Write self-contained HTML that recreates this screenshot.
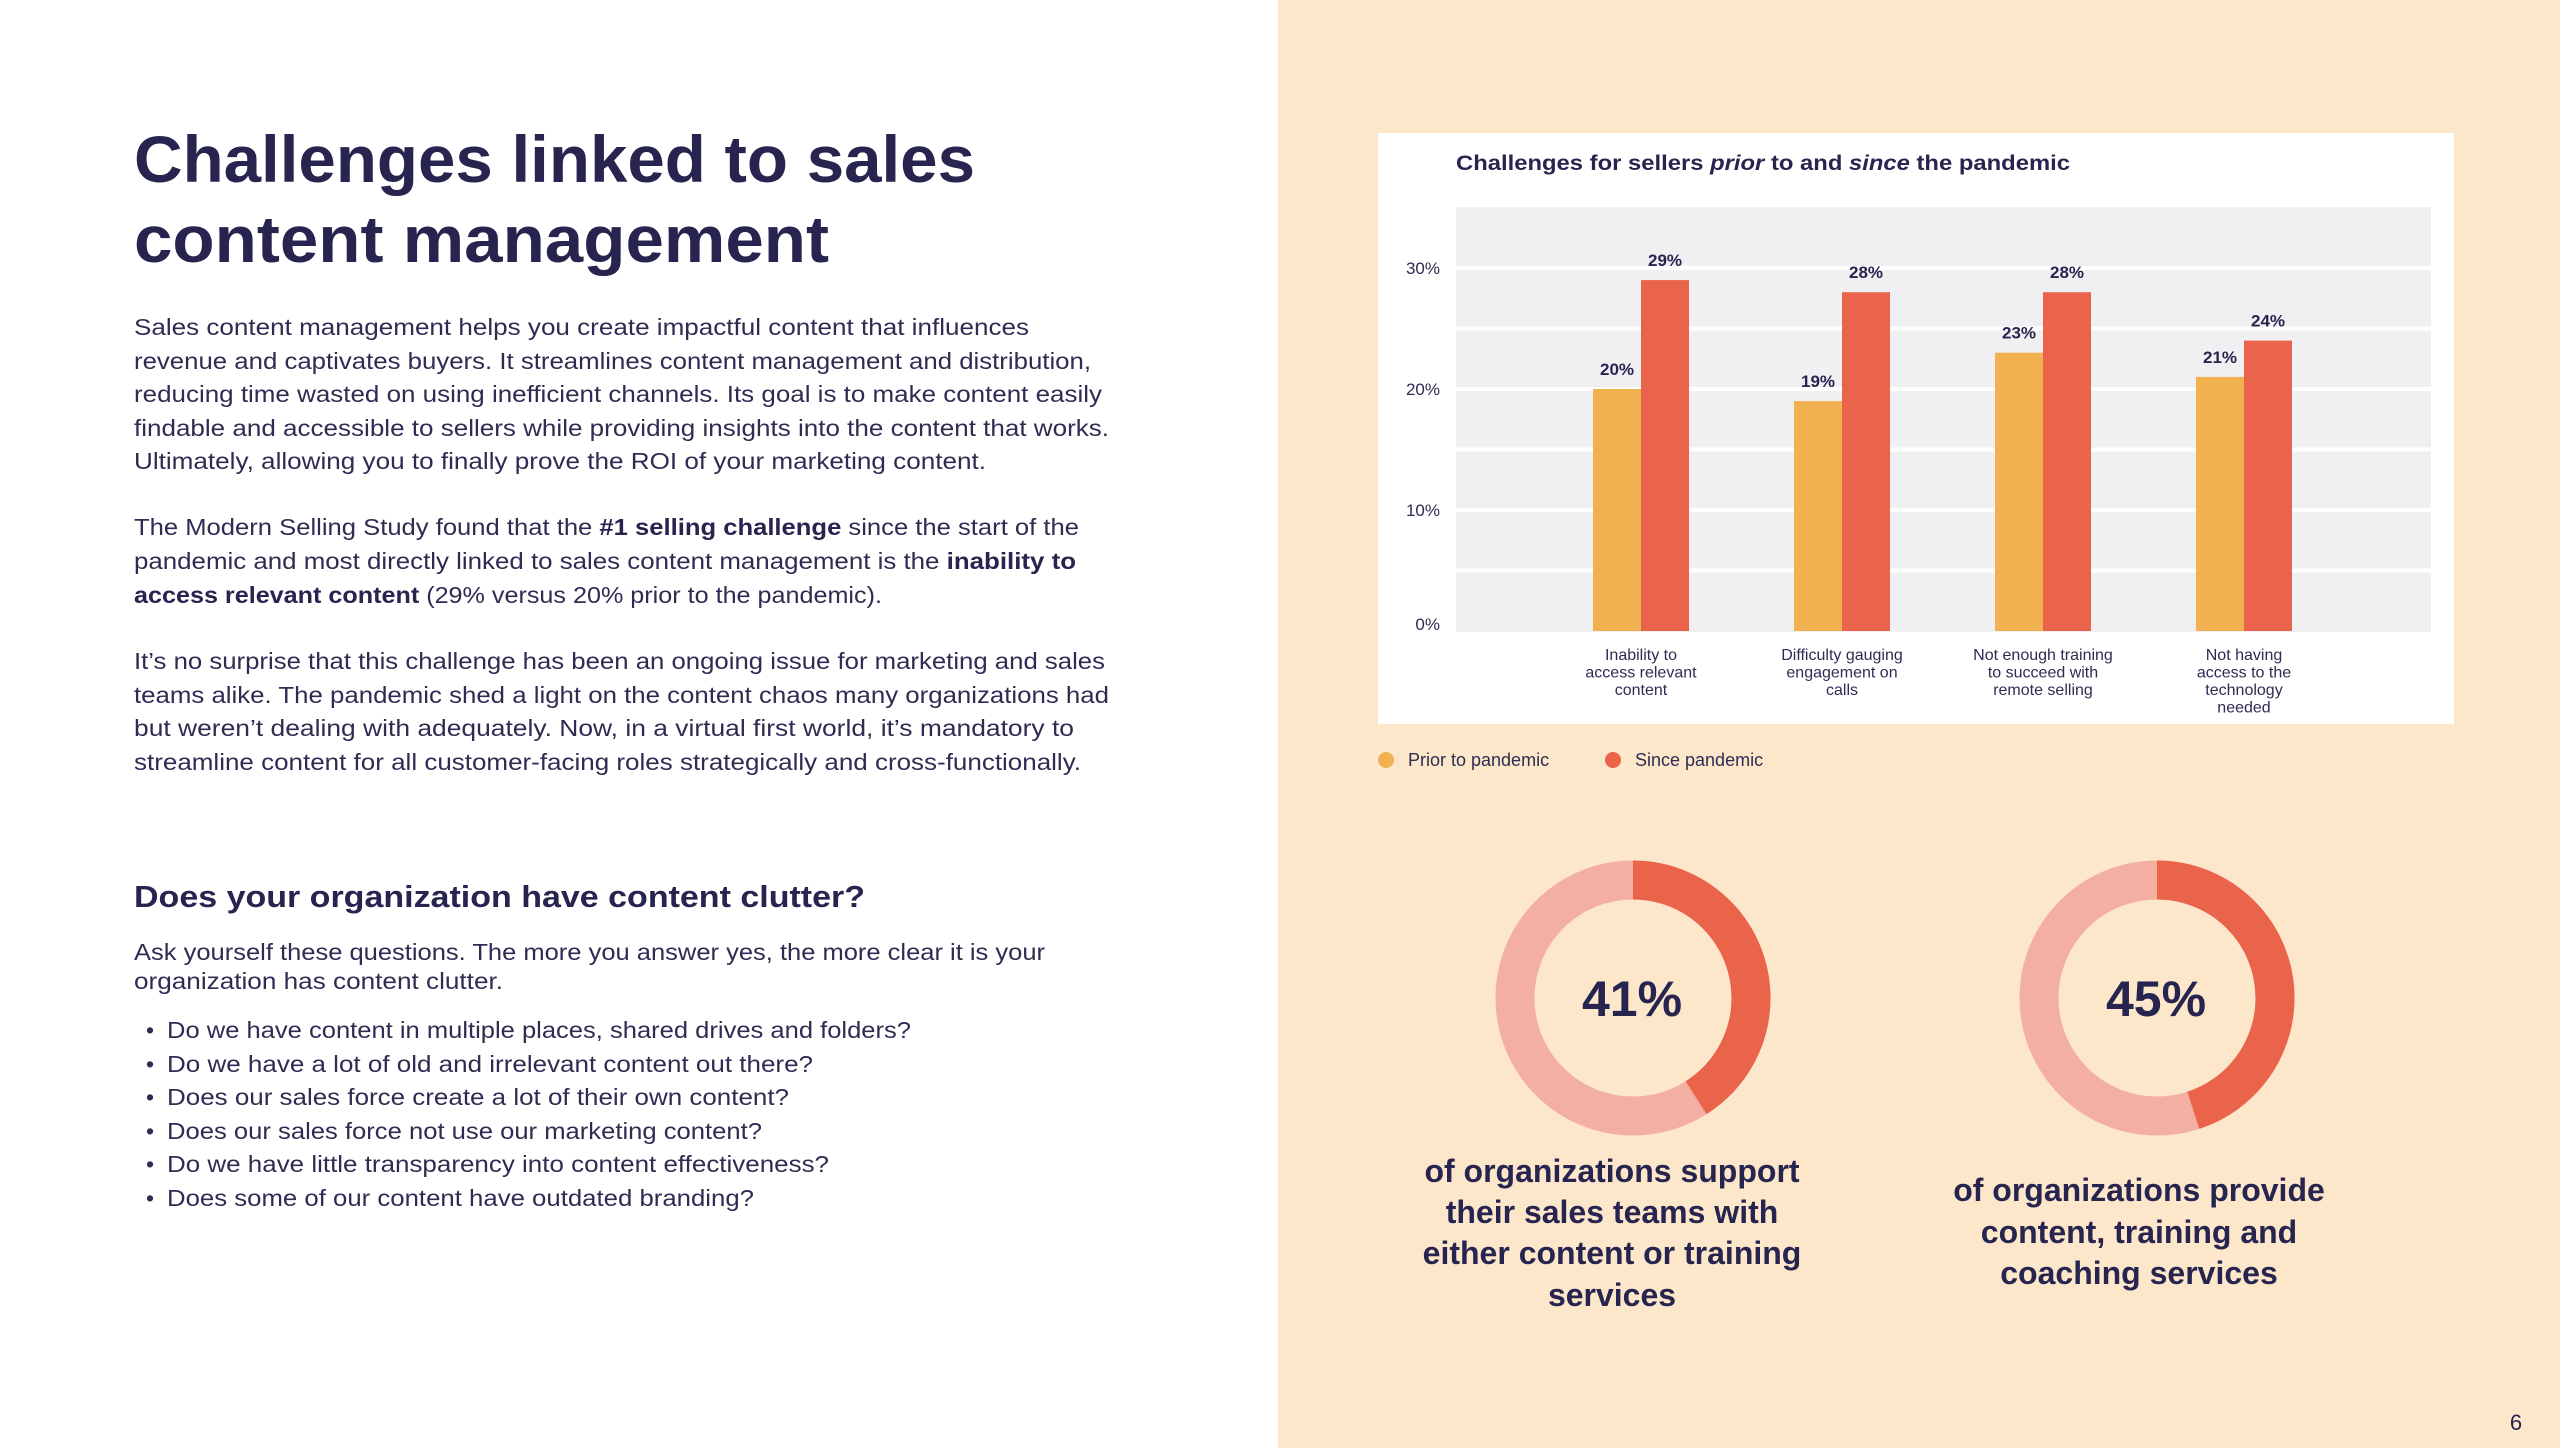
<!DOCTYPE html>
<html><head><meta charset="utf-8"><style>
html,body{margin:0;padding:0;width:2560px;height:1448px;overflow:hidden;background:#fff}
svg{display:block;font-family:"Liberation Sans",sans-serif}
</style></head><body>
<svg id="page" width="2560" height="1448" viewBox="0 0 2560 1448">
<rect x="0" y="0" width="1278" height="1448" fill="#ffffff"/>
<rect x="1278" y="0" width="1282" height="1448" fill="#FCE7CB"/>
<g fill="#27244F">
<text x="134" y="182" font-size="66" font-weight="700" textLength="841" lengthAdjust="spacingAndGlyphs">Challenges linked to sales</text>
<text x="134" y="262" font-size="66" font-weight="700" textLength="695" lengthAdjust="spacingAndGlyphs">content management</text>
<g font-size="23" fill="#2E2C52">
<text x="134" y="335" textLength="895" lengthAdjust="spacingAndGlyphs">Sales content management helps you create impactful content that influences</text>
<text x="134" y="369" textLength="957" lengthAdjust="spacingAndGlyphs">revenue and captivates buyers. It streamlines content management and distribution,</text>
<text x="134" y="402" textLength="968" lengthAdjust="spacingAndGlyphs">reducing time wasted on using inefficient channels. Its goal is to make content easily</text>
<text x="134" y="436" textLength="975" lengthAdjust="spacingAndGlyphs">findable and accessible to sellers while providing insights into the content that works.</text>
<text x="134" y="469" textLength="852" lengthAdjust="spacingAndGlyphs">Ultimately, allowing you to finally prove the ROI of your marketing content.</text>
</g>
<g font-size="23" fill="#2E2C52">
<text x="134" y="535" textLength="945" lengthAdjust="spacingAndGlyphs">The Modern Selling Study found that the <tspan font-weight="700" fill="#27244F">#1 selling challenge</tspan> since the start of the</text>
<text x="134" y="569" textLength="942" lengthAdjust="spacingAndGlyphs">pandemic and most directly linked to sales content management is the <tspan font-weight="700" fill="#27244F">inability to</tspan></text>
<text x="134" y="603" textLength="748" lengthAdjust="spacingAndGlyphs"><tspan font-weight="700" fill="#27244F">access relevant content</tspan> (29% versus 20% prior to the pandemic).</text>
</g>
<g font-size="23" fill="#2E2C52">
<text x="134" y="669" textLength="971" lengthAdjust="spacingAndGlyphs">It’s no surprise that this challenge has been an ongoing issue for marketing and sales</text>
<text x="134" y="703" textLength="975" lengthAdjust="spacingAndGlyphs">teams alike. The pandemic shed a light on the content chaos many organizations had</text>
<text x="134" y="736" textLength="940" lengthAdjust="spacingAndGlyphs">but weren’t dealing with adequately. Now, in a virtual first world, it’s mandatory to</text>
<text x="134" y="770" textLength="947" lengthAdjust="spacingAndGlyphs">streamline content for all customer-facing roles strategically and cross-functionally.</text>
</g>
<text x="134" y="907" font-size="31" font-weight="700" textLength="731" lengthAdjust="spacingAndGlyphs">Does your organization have content clutter?</text>
<g font-size="23" fill="#2E2C52">
<text x="134" y="960" textLength="911" lengthAdjust="spacingAndGlyphs">Ask yourself these questions. The more you answer yes, the more clear it is your</text>
<text x="134" y="989" textLength="369" lengthAdjust="spacingAndGlyphs">organization has content clutter.</text>
</g>
<g font-size="23" fill="#2E2C52">
<text x="146" y="1038">•</text><text x="167" y="1038" textLength="744" lengthAdjust="spacingAndGlyphs">Do we have content in multiple places, shared drives and folders?</text>
<text x="146" y="1072">•</text><text x="167" y="1072" textLength="646" lengthAdjust="spacingAndGlyphs">Do we have a lot of old and irrelevant content out there?</text>
<text x="146" y="1105">•</text><text x="167" y="1105" textLength="622" lengthAdjust="spacingAndGlyphs">Does our sales force create a lot of their own content?</text>
<text x="146" y="1139">•</text><text x="167" y="1139" textLength="595" lengthAdjust="spacingAndGlyphs">Does our sales force not use our marketing content?</text>
<text x="146" y="1172">•</text><text x="167" y="1172" textLength="662" lengthAdjust="spacingAndGlyphs">Do we have little transparency into content effectiveness?</text>
<text x="146" y="1206">•</text><text x="167" y="1206" textLength="587" lengthAdjust="spacingAndGlyphs">Does some of our content have outdated branding?</text>
</g>
</g>
<rect x="1378" y="133" width="1076" height="591" fill="#ffffff"/>
<text x="1456" y="170" font-size="21" font-weight="700" fill="#27244F" textLength="614" lengthAdjust="spacingAndGlyphs">Challenges for sellers <tspan font-style="italic">prior</tspan> to and <tspan font-style="italic">since</tspan> the pandemic</text>
<rect x="1456" y="207" width="975" height="425" fill="#F0F0F3"/>
<g id="grid"></g><g id="yticks"></g><g id="bars"></g><g id="labels"></g><g id="cats"></g>
<g>
<circle cx="1386" cy="760" r="8" fill="#F2B150"/>
<text x="1408" y="766" font-size="18" fill="#2E2C52">Prior to pandemic</text>
<circle cx="1613" cy="760" r="8" fill="#EA634B"/>
<text x="1635" y="766" font-size="18" fill="#2E2C52">Since pandemic</text>
</g>
<g id="donuts"></g>
<g font-size="32" font-weight="700" fill="#27244F" text-anchor="middle">
<text x="1612" y="1182">of organizations support</text>
<text x="1612" y="1223">their sales teams with</text>
<text x="1612" y="1264">either content or training</text>
<text x="1612" y="1306">services</text>
</g>
<g font-size="32" font-weight="700" fill="#27244F" text-anchor="middle">
<text x="2139" y="1201">of organizations provide</text>
<text x="2139" y="1243">content, training and</text>
<text x="2139" y="1284">coaching services</text>
</g>
<text x="2516" y="1430" font-size="22" fill="#27244F" text-anchor="middle">6</text>
</svg>
<script>
const categories = [["Inability to","access relevant","content"],["Difficulty gauging","engagement on","calls"],["Not enough training","to succeed with","remote selling"],["Not having","access to the","technology","needed"]];
const priorValues = [20, 19, 23, 21];
const sinceValues = [29, 28, 28, 24];
const tickValues = [0, 10, 20, 30];
const gridValues = [5, 10, 15, 20, 25, 30];
const donutValues = [41, 45];
const NS = "http://www.w3.org/2000/svg";
function mk(tag, attrs, parent){const e=document.createElementNS(NS,tag);for(const k in attrs)e.setAttribute(k,attrs[k]);parent.appendChild(e);return e;}
const y0=631, pxPer=12.1;
function yScale(v){return y0 - v*pxPer;}
function xCenter(i){return 1641 + i*201;}
const barW=48;
const grid=document.getElementById('grid');
gridValues.forEach(v=>{const l=mk('rect',{x:1456,y:yScale(v)-2,width:975,height:4,fill:'#ffffff'},grid);

});
const yt=document.getElementById('yticks');
tickValues.forEach(v=>{const t=mk('text',{x:1440,y:yScale(v)+(v===0?-1:6),'font-size':17,fill:'#2E2C52','text-anchor':'end'},yt);t.textContent=v+'%';

});
const bars=document.getElementById('bars'), labels=document.getElementById('labels'), cats=document.getElementById('cats');
categories.forEach((c,i)=>{
 const cx=xCenter(i);
 const b1=mk('rect',{x:cx-barW,y:yScale(priorValues[i]),width:barW,height:y0-yScale(priorValues[i]),fill:'#F2B150'},bars);
 
 
 const b2=mk('rect',{x:cx,y:yScale(sinceValues[i]),width:barW,height:y0-yScale(sinceValues[i]),fill:'#EA634B'},bars);
 
 
 const l1=mk('text',{x:cx-barW/2,y:yScale(priorValues[i])-14,'font-size':17,'font-weight':700,fill:'#27244F','text-anchor':'middle'},labels);l1.textContent=priorValues[i]+'%';
 
 
 const l2=mk('text',{x:cx+barW/2,y:yScale(sinceValues[i])-14,'font-size':17,'font-weight':700,fill:'#27244F','text-anchor':'middle'},labels);l2.textContent=sinceValues[i]+'%';
 
 
 c.forEach((ln,j)=>{const t=mk('text',{x:cx,y:660+j*17.5,'font-size':16,fill:'#2E2C52','text-anchor':'middle'},cats);t.textContent=ln;
 
 });
});
const dg=document.getElementById('donuts');
const dCenters=[1633,2157], dcy=998, R=118, W=39, C=2*Math.PI*R;
donutValues.forEach((v,i)=>{
 const bg=mk('circle',{cx:dCenters[i],cy:dcy,r:R,fill:'none',stroke:'#F4AFA3','stroke-width':W},dg);
 
 
 const arc=mk('circle',{cx:dCenters[i],cy:dcy,r:R,fill:'none',stroke:'#EA634B','stroke-width':W,'stroke-dasharray':(C*v/100)+' '+C,transform:'rotate(-90 '+dCenters[i]+' '+dcy+')'},dg);
 
 
 const t=mk('text',{x:dCenters[i]-1,y:dcy+18,'font-size':50,'font-weight':700,fill:'#27244F','text-anchor':'middle'},dg);t.textContent=v+'%';
 
 
});
</script>
</body></html>
